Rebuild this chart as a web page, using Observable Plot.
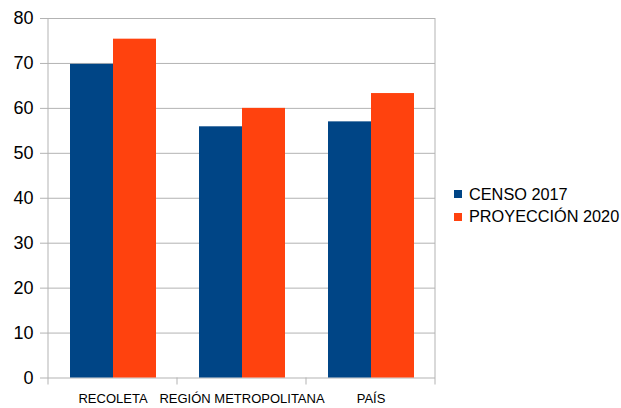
<!DOCTYPE html>
<html>
<head>
<meta charset="utf-8">
<script src="https://cdn.jsdelivr.net/npm/d3@7"></script>
<script src="https://cdn.jsdelivr.net/npm/@observablehq/plot@0.6"></script>
<style>
  html, body { margin: 0; padding: 0; background: #fff; }
  #wrap { position: relative; width: 621px; height: 408px; font-family: "Liberation Sans", Arial, sans-serif; }
  #legend { position: absolute; left: 454px; top: 183px; font-size: 16.3px; color: #000; white-space: nowrap; }
  #legend .row { display: flex; align-items: center; height: 22.5px; }
  #legend .sw { width: 8px; height: 8px; margin-right: 7px; flex: none; }
</style>
</head>
<body>
<div id="wrap"><div id="legend"></div></div>
<script>
const categories = ["RECOLETA", "REGIÓN METROPOLITANA", "PAÍS"];
const series = ["CENSO 2017", "PROYECCIÓN 2020"];
const censo2017 = [69.8, 55.9, 57.0];
const proyeccion2020 = [75.4, 60.0, 63.3];
const colors = ["#004586", "#ff420e"];
const yTicks = [0, 10, 20, 30, 40, 50, 60, 70, 80];

const data = [];
categories.forEach((c, i) => {
  data.push({cat: c, serie: series[0], value: censo2017[i]});
  data.push({cat: c, serie: series[1], value: proyeccion2020[i]});
});

const grid = "#b3b3b3";
const plot = Plot.plot({
  width: 621,
  height: 408,
  marginLeft: 48,
  marginRight: 186,
  marginTop: 18,
  marginBottom: 30.5,
  style: {fontFamily: "'Liberation Sans', Arial, sans-serif", background: "#fff", color: "#000"},
  fx: {domain: categories, padding: 0, label: null},
  x: {domain: series, paddingInner: 0, paddingOuter: 0.483, axis: null},
  y: {domain: [0, 80], label: null},
  color: {domain: series, range: colors},
  marks: [
    Plot.gridY(yTicks, {stroke: grid, strokeOpacity: 1, facetAnchor: null}),
    Plot.barY(data, {fx: "cat", x: "serie", y: "value", fill: "serie"}),
    Plot.axisY(yTicks, {tickSize: 8, tickPadding: 7, fontSize: 18, stroke: grid, strokeOpacity: 1, color: "#000", label: null}),
    Plot.axisFx({anchor: "bottom", tickSize: 0, tickPadding: 16, fontSize: 13, label: null})
  ]
});

document.getElementById("wrap").prepend(plot);

// frame lines and band-boundary ticks from the fx scale
const svg = d3.select(plot);
const fx = plot.scale("fx");
const ys = plot.scale("y");
const y0 = ys.apply(0), y80 = ys.apply(80);
const edges = categories.map(c => fx.apply(c));
edges.push(fx.apply(categories[categories.length - 1]) + fx.bandwidth);
const g = svg.append("g").attr("stroke", grid).attr("stroke-width", 1);
edges.forEach((x, i) => {
  const top = (i === 0 || i === edges.length - 1) ? y80 : y0;
  g.append("line").attr("x1", x).attr("x2", x).attr("y1", top).attr("y2", y0 + 7);
});

const legend = d3.select("#legend");
series.forEach((s, i) => {
  const r = legend.append("div").attr("class", "row");
  r.append("div").attr("class", "sw").style("background", colors[i]);
  r.append("span").text(s);
});
</script>
</body>
</html>
